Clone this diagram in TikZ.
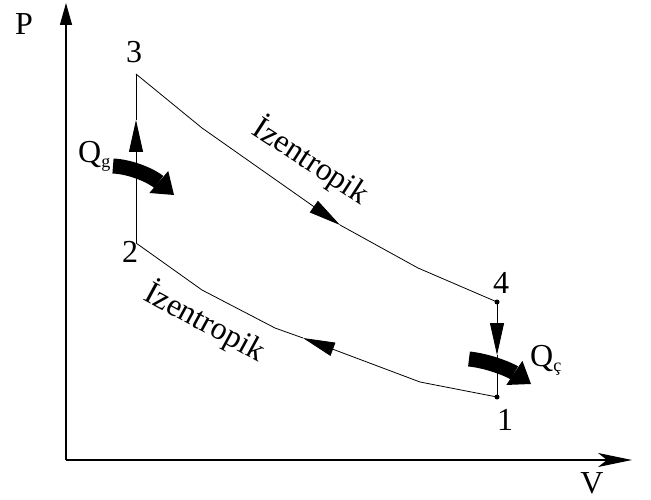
\documentclass[tikz,border=0pt]{standalone}
\usepackage{fontspec}
\setmainfont{Liberation Serif}
\usetikzlibrary{arrows.meta,positioning}

\newcommand{\Qsub}[1]{Q\raisebox{-5pt}{\fontsize{18}{20}\selectfont #1}}

\begin{document}
\begin{tikzpicture}[x=1pt, y=-1pt,
  every node/.style={font=\fontsize{32}{36}\selectfont, inner sep=0pt},
  proc/.style={line width=0.8pt},
  axis/.style={line width=1.3pt},
  midtip/.style={proc, -{Triangle[length=32pt,width=14pt]}},
  heat/.style={line width=15pt, -{Triangle[length=20pt,width=29pt,line width=0pt]}},
  dot/.style={circle, fill, inner sep=0pt, minimum size=5pt},
]
\useasboundingbox (0,0) rectangle (651,500);

% axes
\coordinate (O) at (66,460);
\coordinate (ytop) at (66,3);
\coordinate (xend) at (632,460);
\draw[axis, -{Triangle[length=22pt,width=12pt]}] (O) -- (ytop);
\draw[axis, -{Stealth[length=34pt,width=14pt,inset=9pt]}] (O) -- (xend);
\node (P) at (24,24) {P};
\node (V) at (592,483) {V};

% state points
\coordinate (p1) at (497,397);
\coordinate (p2) at (136,243);
\coordinate (p3) at (136,74);
\coordinate (p4) at (497,302);
\node[dot] (d1) at (p1) {};
\node[dot] (d4) at (p4) {};
\node (n1) at (505,420) {1};
\node (n2) at (130,252) {2};
\node (n3) at (134,52) {3};
\node (n4) at (501,283) {4};

% 2-3 and 4-1
\coordinate (m23) at (136,120);
\coordinate (m41) at (497,355);
\draw[midtip] (p2) -- (m23);
\draw[proc] (m23) -- (p3);
\draw[midtip] (p4) -- (m41);
\draw[proc] (m41) -- (p1);

% 3-4 izentropik
\coordinate (u1) at (202,128);
\coordinate (u2) at (340,225);
\coordinate (u3) at (418,268);
\draw[midtip] (p3) -- (u1) -- (u2);
\draw[proc] (u2) -- (u3) -- (p4);
\node[rotate=-33] (iz34) at (311,161) {İzentropik};

% 1-2 izentropik
\coordinate (l1) at (420,382);
\coordinate (l2) at (303,338);
\coordinate (l3) at (275,328);
\coordinate (l4) at (202,290);
\draw[midtip] (p1) -- (l1) -- (l2);
\draw[proc] (l2) -- (l3) -- (l4) -- (p2);
\node[rotate=-28.5] (iz12) at (205,322) {İzentropik};

% heat in / out
\coordinate (hg1) at (113,166);
\coordinate (hg2) at (174,195);
\coordinate (hc1) at (469,359);
\coordinate (hc2) at (531,384);
\draw[heat] (hg1) .. controls (133,167) and (153,177) .. (hg2);
\draw[heat] (hc1) .. controls (489,361) and (510,370) .. (hc2);
\node[anchor=base west] (Qg) at (78,163) {\Qsub{g}};
\node[anchor=base west] (Qc) at (530,366) {\Qsub{ç}};

\end{tikzpicture}
\end{document}
